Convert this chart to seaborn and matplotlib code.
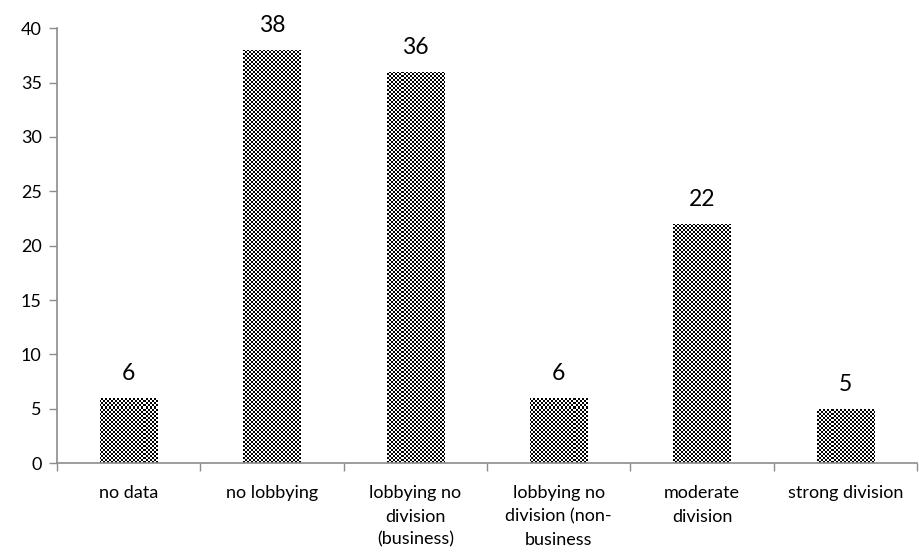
import numpy as np
import pandas as pd
import matplotlib
matplotlib.use("Agg")
import matplotlib.pyplot as plt
import seaborn as sns

categories = ["no data", "no lobbying", "lobbying no\ndivision\n(business)",
              "lobbying no\ndivision (non-\nbusiness", "moderate\ndivision",
              "strong division"]
counts = [6, 38, 36, 6, 22, 5]
y_ticks = [0, 5, 10, 15, 20, 25, 30, 35, 40]

sns.set_theme(style="white")
plt.rcParams["font.family"] = ["Lato", "DejaVu Sans"]

df = pd.DataFrame({"category": categories, "count": counts})

fig = plt.figure(figsize=(9.19, 5.54), dpi=100)
ax = fig.add_axes([0.062, 0.164, 0.936, 0.785])

sns.barplot(data=df, x="category", y="count", ax=ax, color="white",
            width=0.4, edgecolor="none", linewidth=0)

ax.set_xlim(-0.5, len(categories) - 0.5)
ax.set_ylim(0, 40)

# fine black/white checkerboard fill clipped to each bar
nx, ny = 430, 218
ii, jj = np.indices((ny, nx))
board = ((ii + jj) % 2).astype(float)
for patch in ax.patches:
    im = ax.imshow(board, cmap="gray", vmin=0, vmax=1, interpolation="nearest",
                   extent=(-0.5, len(categories) - 0.5, 0, 40), aspect="auto",
                   zorder=patch.get_zorder() + 0.1)
    im.set_clip_path(patch)
ax.set_xlim(-0.5, len(categories) - 0.5)
ax.set_ylim(0, 40)

for patch, v in zip(ax.patches, counts):
    cx = patch.get_x() + patch.get_width() / 2
    ax.annotate(str(v), (cx, v), xytext=(0, 10), textcoords="offset points",
                ha="center", va="bottom", fontsize=16.5, color="black")

ax.set_yticks(y_ticks)
ax.set_xticks(range(len(categories)))
ax.set_xticklabels(categories, fontsize=13, color="black", linespacing=1.55)
ax.set_xticks(np.arange(-0.5, len(categories) + 0.5, 1.0), minor=True)
ax.tick_params(axis="x", which="major", length=0, pad=16)
ax.tick_params(axis="x", which="minor", length=6, width=1, color="#8c8c8c",
               direction="out", bottom=True)
ax.tick_params(axis="y", length=6, width=1, color="#8c8c8c", direction="out",
               left=True, labelsize=13, labelcolor="black", pad=5)

ax.set_xlabel("")
ax.set_ylabel("")
for side in ["top", "right"]:
    ax.spines[side].set_visible(False)
for side in ["left", "bottom"]:
    ax.spines[side].set_color("#8c8c8c")
    ax.spines[side].set_linewidth(1.2)

fig.savefig("out.png", dpi=100)
